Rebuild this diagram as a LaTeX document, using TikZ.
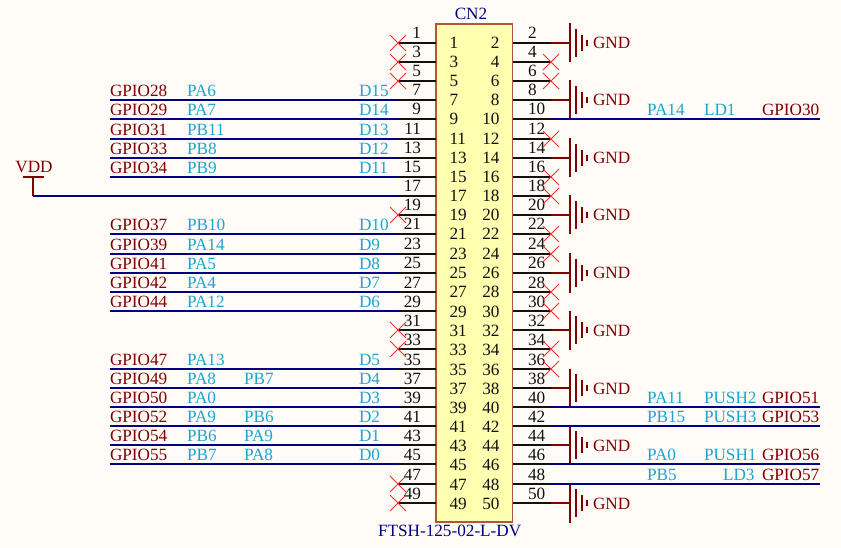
\documentclass[tikz,border=0pt]{standalone}
\usepackage{fontspec}
\setmainfont{Liberation Serif}
\definecolor{bgc}{HTML}{FFFCF8}
\definecolor{wirec}{HTML}{000080}
\definecolor{pinc}{HTML}{111111}
\definecolor{redc}{HTML}{800000}
\definecolor{netc}{HTML}{1CA5D2}
\definecolor{xc}{HTML}{FF2B2B}
\definecolor{boxc}{HTML}{FFFFB0}
\definecolor{boxl}{HTML}{B0553F}
\tikzset{
  lbl/.style={inner sep=0pt,outer sep=0pt,font=\fontsize{17.2}{20}\selectfont},
  pwr/.style={lbl,text=redc,anchor=base west},
  net/.style={lbl,text=netc,anchor=base west},
  nnum/.style={lbl,text=pinc},
  desig/.style={lbl,text=wirec},
  pinw/.style={draw=pinc,line width=2pt},
  wire/.style={draw=wirec,line width=2pt},
  pwrw/.style={draw=redc,line width=2pt},
  nc/.style={draw=xc,line width=1pt},
  chip/.style={draw=boxl,fill=boxc,line width=1.2pt,inner sep=0pt,outer sep=0pt,anchor=north west}
}
% y of pin #1
\newcommand{\rowy}[1]{\pgfmathsetmacro{\ry}{round(42.7+19.17*floor((#1-1)/2))}}
\newcommand{\leftpin}[1]{%
  \rowy{#1}
  \coordinate (a#1) at (436,\ry);
  \coordinate (b#1) at (398,\ry);
  \node[nnum,anchor=base east] (po#1) at (421,\ry-4) {#1};
  \node[nnum,anchor=base west] (pi#1) at (449.5,\ry+6) {#1};
  \draw[pinw] (a#1) -- (b#1);
}
\newcommand{\rightpin}[1]{%
  \rowy{#1}
  \coordinate (a#1) at (512.5,\ry);
  \coordinate (b#1) at (551,\ry);
  \node[nnum,anchor=base west] (po#1) at (528,\ry-4) {#1};
  \node[nnum,anchor=base east] (pi#1) at (499.5,\ry+6) {#1};
  \draw[pinw] (a#1) -- (b#1);
}
\newcommand{\noconn}[1]{%
  \draw[nc] ($(b#1)+(-8,-8)$) -- ($(b#1)+(8,8)$);
  \draw[nc] ($(b#1)+(-8,8)$) -- ($(b#1)+(8,-8)$);
}
\newcommand{\leftnet}[5]{% pin, gpio, net1, net2, d
  \rowy{#1}
  \coordinate (w#1) at (110,\ry);
  \draw[wire] (w#1) -- (b#1);
  \node[pwr] (g#1) at (110,\ry-3.2) {#2};
  \node[net] (n#1) at (187,\ry-3.2) {#3};
  \node[net] (m#1) at (244,\ry-3.2) {#4};
  \node[net] (d#1) at (359,\ry-3.2) {#5};
}
\newcommand{\rightnet}[5]{% pin, net1, x of net2, net2, gpio
  \rowy{#1}
  \coordinate (w#1) at (820,\ry);
  \draw[wire] (b#1) -- (w#1);
  \node[net] (n#1) at (647,\ry-3.2) {#2};
  \node[net] (m#1) at (#3,\ry-3.2) {#4};
  \node[pwr] (g#1) at (762,\ry-3.2) {#5};
}
\newcommand{\gnd}[1]{%
  \rowy{#1}
  \coordinate (s#1) at (570,\ry);
  \draw[pwrw] (b#1) -- (s#1);
  \draw[draw=redc,line width=2pt] ($(s#1)+(0,-19.5)$) -- ($(s#1)+(0,19.5)$);
  \draw[draw=redc,line width=2pt] ($(s#1)+(6,-14)$) -- ($(s#1)+(6,14)$);
  \draw[draw=redc,line width=2pt] ($(s#1)+(12,-8)$) -- ($(s#1)+(12,8)$);
  \draw[draw=redc,line width=2pt] ($(s#1)+(17,-3)$) -- ($(s#1)+(17,3)$);
  \node[pwr] (t#1) at (593,\ry+6) {GND};
}
\usetikzlibrary{calc}
\begin{document}
\begin{tikzpicture}[x=1pt,y=-1pt]
\fill[bgc] (0,0) rectangle (841,548);
\useasboundingbox (0,0) rectangle (841,548);
\node[chip,minimum width=76.5pt,minimum height=498pt] (cn) at (436,24) {};
\node[desig,anchor=base] (cnname) at (471,20) {CN2};
\node[desig,anchor=base west] (cnpart) at (378,536.7) {FTSH-125-02-L-DV};
\foreach \p in {1,3,...,49} {\leftpin{\p}}
\foreach \p in {2,4,...,50} {\rightpin{\p}}
\foreach \p in {1,3,5,19,31,33,47,49,4,6,12,16,18,22,24,28,30,34,36} {\noconn{\p}}
\foreach \p in {2,8,14,20,26,32,38,44,50} {\gnd{\p}}
\leftnet{7}{GPIO28}{PA6}{}{D15}
\leftnet{9}{GPIO29}{PA7}{}{D14}
\leftnet{11}{GPIO31}{PB11}{}{D13}
\leftnet{13}{GPIO33}{PB8}{}{D12}
\leftnet{15}{GPIO34}{PB9}{}{D11}
\leftnet{21}{GPIO37}{PB10}{}{D10}
\leftnet{23}{GPIO39}{PA14}{}{D9}
\leftnet{25}{GPIO41}{PA5}{}{D8}
\leftnet{27}{GPIO42}{PA4}{}{D7}
\leftnet{29}{GPIO44}{PA12}{}{D6}
\leftnet{35}{GPIO47}{PA13}{}{D5}
\leftnet{37}{GPIO49}{PA8}{PB7}{D4}
\leftnet{39}{GPIO50}{PA0}{}{D3}
\leftnet{41}{GPIO52}{PA9}{PB6}{D2}
\leftnet{43}{GPIO54}{PB6}{PA9}{D1}
\leftnet{45}{GPIO55}{PB7}{PA8}{D0}
\rightnet{10}{PA14}{704}{LD1}{GPIO30}
\rightnet{40}{PA11}{704}{PUSH2}{GPIO51}
\rightnet{42}{PB15}{704}{PUSH3}{GPIO53}
\rightnet{46}{PA0}{704}{PUSH1}{GPIO56}
\rightnet{48}{PB5}{723}{LD3}{GPIO57}
% VDD
\coordinate (vs) at (33,177);
\coordinate (vc) at (33,196);
\node[pwr,anchor=base] (vdd) at (34,173) {VDD};
\draw[pwrw] (23,177) -- (43.5,177);
\draw[pwrw] (vs) -- (vc);
\draw[wire] (vc) -- (b17);
\end{tikzpicture}
\end{document}
